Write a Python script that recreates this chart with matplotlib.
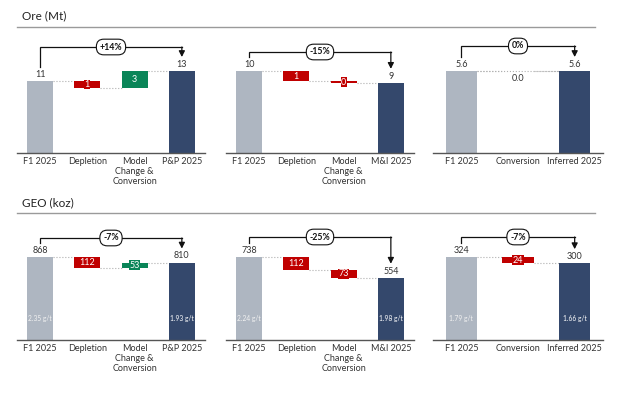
import matplotlib
matplotlib.use('Agg')
import matplotlib.pyplot as plt

plt.rcParams['font.family'] = ['Lato', 'DejaVu Sans']

# ---------------- data ----------------
ore_pp_cats = ['F1 2025', 'Depletion', 'Model\nChange &\nConversion', 'P&P 2025']
ore_pp_vals = [11.4, -1.1, 2.7, 13.0]
ore_pp_labels = ['11', '1', '3', '13']
ore_pp_change = '+14%'

ore_mi_cats = ['F1 2025', 'Depletion', 'Model\nChange &\nConversion', 'M&I 2025']
ore_mi_vals = [10.4, -1.3, -0.2, 8.9]
ore_mi_labels = ['10', '1', '0', '9']
ore_mi_change = '-15%'

ore_inf_cats = ['F1 2025', 'Conversion', 'Inferred 2025']
ore_inf_vals = [5.6, 0.0, 5.6]
ore_inf_labels = ['5.6', '0.0', '5.6']
ore_inf_change = '0%'

geo_pp_cats = ['F1 2025', 'Depletion', 'Model\nChange &\nConversion', 'P&P 2025']
geo_pp_vals = [868, -112, 53, 810]
geo_pp_labels = ['868', '112', '53', '810']
geo_pp_change = '-7%'
geo_pp_grades = ['2.35 g/t', '1.93 g/t']

geo_mi_cats = ['F1 2025', 'Depletion', 'Model\nChange &\nConversion', 'M&I 2025']
geo_mi_vals = [738, -112, -73, 554]
geo_mi_labels = ['738', '112', '73', '554']
geo_mi_change = '-25%'
geo_mi_grades = ['2.24 g/t', '1.98 g/t']

geo_inf_cats = ['F1 2025', 'Conversion', 'Inferred 2025']
geo_inf_vals = [324, -24, 300]
geo_inf_labels = ['324', '24', '300']
geo_inf_change = '-7%'
geo_inf_grades = ['1.79 g/t', '1.66 g/t']

row_titles = ['Ore (Mt)', 'GEO (koz)']

# ---------------- style ----------------
GREY = '#AEB6C1'
NAVY = '#34486C'
RED = '#C00000'
GREEN = '#0A8558'
TXT = '#333333'

W, HF = 640, 399
fig = plt.figure(figsize=(6.4, 3.99), dpi=100)

AX_H = 120  # px
BW = 0.55


def px2fig_rect(x0, x1, ybase, h):
    return [x0 / W, (HF - ybase) / HF, (x1 - x0) / W, h / HF]


def panel(xspan, ybase, peak_px, brk_px, cats, vals, labels, change, grades=None):
    ax = fig.add_axes(px2fig_rect(xspan[0], xspan[1], ybase, AX_H))
    n = len(cats)
    levels = [vals[0]]
    run = vals[0]
    for d in vals[1:-1]:
        run += d
        levels.append(run)
    levels.append(vals[-1])
    peak = max(levels)
    ymax = peak * AX_H / peak_px
    u = ymax / AX_H  # data units per px
    pad = 0.49 if n == 4 else 0.5
    ax.set_xlim(-pad, n - 1 + pad)
    ax.set_ylim(0, ymax)

    # start bar
    ax.bar(0, vals[0], width=BW, color=GREY, zorder=2)
    ax.annotate(labels[0], (0, vals[0]), xytext=(0, 1.5), textcoords='offset points',
                ha='center', va='bottom', fontsize=6.5, color=TXT)
    # deltas
    run = vals[0]
    for i, d in enumerate(vals[1:-1], start=1):
        new = run + d
        if d == 0:
            ax.plot([i - 1 + BW / 2, i + 1 - BW / 2], [run, run], ls=':', color='#B0B0B0', lw=0.8, zorder=1)
            ax.annotate(labels[i], (i, run), xytext=(0, -2), textcoords='offset points',
                        ha='center', va='top', fontsize=6.5, color=TXT)
        else:
            col = RED if d < 0 else GREEN
            ax.bar(i, abs(d), bottom=min(run, new), width=BW, color=col, zorder=2)
            ax.text(i, (run + new) / 2, labels[i], ha='center', va='center', fontsize=6.5,
                    color='white', zorder=3,
                    bbox=dict(boxstyle='square,pad=0.04', fc=col, ec='none'))
        ax.plot([i - 1 + BW / 2, i - BW / 2], [run, run], ls=':', color='#B0B0B0', lw=0.8, zorder=1)
        run = new
    ax.plot([n - 2 + BW / 2, n - 1 - BW / 2], [vals[-1], vals[-1]], ls=':', color='#B0B0B0', lw=0.8, zorder=1)
    # end bar
    ax.bar(n - 1, vals[-1], width=BW, color=NAVY, zorder=2)
    ax.annotate(labels[-1], (n - 1, vals[-1]), xytext=(0, 1.5), textcoords='offset points',
                ha='center', va='bottom', fontsize=6.5, color=TXT)

    # grades
    if grades:
        ax.text(0, 22 * u, grades[0], ha='center', va='center', fontsize=4.8, color='#F2F2F2', zorder=3)
        ax.text(n - 1, 22 * u, grades[1], ha='center', va='center', fontsize=4.8, color='white', zorder=3)

    # bracket
    yb = (peak_px + brk_px) * u
    yl = vals[0] + 14 * u
    yr = vals[-1] + 14 * u
    ax.plot([0, 0, n - 1], [yl, yb, yb], color='#111111', lw=0.9, clip_on=False, zorder=4,
            solid_joinstyle='miter')
    ax.annotate('', xy=(n - 1, yr), xytext=(n - 1, yb),
                arrowprops=dict(arrowstyle='-|>,head_length=0.35,head_width=0.18', color='#111111',
                                lw=0.9, shrinkA=0, shrinkB=0),
                annotation_clip=False, zorder=4)
    ax.text((n - 1) / 2, yb, change, ha='center', va='center', fontsize=6.3, fontweight='bold',
            color='#111111', zorder=5, clip_on=False,
            bbox=dict(boxstyle='round,pad=0.38,rounding_size=0.85', fc='white', ec='#111111', lw=0.8))

    for s in ['top', 'left', 'right']:
        ax.spines[s].set_visible(False)
    ax.spines['bottom'].set_color('#555555')
    ax.spines['bottom'].set_linewidth(1.0)
    ax.set_yticks([])
    ax.set_xticks(range(n))
    ax.set_xticklabels(cats, fontsize=6.5, color=TXT, linespacing=1.15)
    ax.tick_params(axis='x', length=0, pad=3)
    ax.patch.set_alpha(0)
    return ax


spans = [(17, 205), (226, 414), (433, 603)]

# top row
panel(spans[0], 153, 82, 24, ore_pp_cats, ore_pp_vals, ore_pp_labels, ore_pp_change)
panel(spans[1], 153, 82, 19, ore_mi_cats, ore_mi_vals, ore_mi_labels, ore_mi_change)
panel(spans[2], 153, 82, 25, ore_inf_cats, ore_inf_vals, ore_inf_labels, ore_inf_change)
# bottom row
panel(spans[0], 340, 83, 19, geo_pp_cats, geo_pp_vals, geo_pp_labels, geo_pp_change, geo_pp_grades)
panel(spans[1], 340, 83, 20, geo_mi_cats, geo_mi_vals, geo_mi_labels, geo_mi_change, geo_mi_grades)
panel(spans[2], 340, 83, 20, geo_inf_cats, geo_inf_vals, geo_inf_labels, geo_inf_change, geo_inf_grades)

for title, ty, ly in [(row_titles[0], 16, 27), (row_titles[1], 203, 213)]:
    fig.text(22 / W, 1 - ty / HF, title, ha='left', va='center', fontsize=8.5, color='#222222')
    fig.add_artist(plt.Line2D([17 / W, 595 / W], [1 - ly / HF, 1 - ly / HF],
                              color='#9A9A9A', lw=1.0, transform=fig.transFigure))

fig.savefig('out.png', dpi=100, facecolor='white')
